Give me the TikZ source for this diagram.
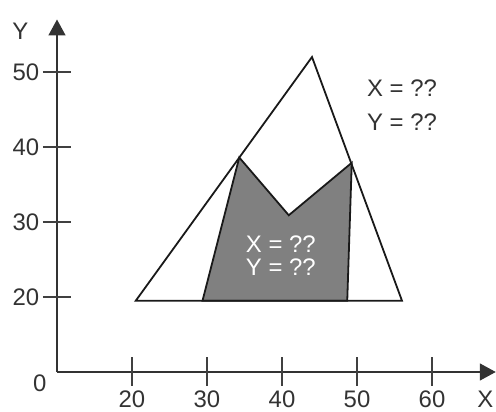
\documentclass[tikz,border=0pt]{standalone}
\usepackage{fontspec}
\setmainfont{Liberation Sans}
\usetikzlibrary{arrows.meta}
\begin{document}
\begin{tikzpicture}[x=7.5bp,y=7.5bp,
	lbl/.style={font=\fontsize{24}{27}\selectfont, text=black!80},
	axisline/.style={line width=1.6pt, black!80, -{Triangle[length=16pt,width=17pt]}},
	tickmark/.style={line width=1.3pt, black!75},
	outline/.style={line width=1.8pt, black!90, line join=miter}]
	\useasboundingbox (2.4,4.667) rectangle (68.533,59.6);
	% axes
	\coordinate (o) at (10,10);
	\coordinate (xend) at (68.5,10);
	\coordinate (yend) at (10,57);
	\draw[axisline] (o)--(xend);
	\draw[axisline] (o)--(yend);
	\node[lbl] (xlab) at (67.1,6.3) {X};
	\node[lbl] (ylab) at (5.1,55.4) {Y};
	\node[lbl] (zero) at (7.7,8.5) {0};
	\foreach \v in {20,30,...,60} {
		\draw[tickmark] (\v,8.2)--(\v,12);
		\node[lbl] (xt\v) at (\v,6.3) {\v};
	}
	\foreach \v in {20,30,...,50} {
		\draw[tickmark] (8.13,\v)--(11.87,\v);
		\node[lbl,anchor=east] (yt\v) at (8.1,\v) {\v};
	}
	% triangle and the grey part inside it
	\coordinate (tl) at (20.5,19.5);
	\coordinate (tt) at (44,52);
	\coordinate (tr) at (56,19.5);
	\coordinate (g1) at (29.4,19.5);
	\coordinate (g2) at (34.3,38.6);
	\coordinate (g3) at (40.9,30.9);
	\coordinate (g4) at (49.3,37.9);
	\coordinate (g5) at (48.7,19.5);
	\draw[outline, fill=black!50] (g1)--(g2)--(g3)--(g4)--(g5)--cycle;
	\draw[outline] (tl)--(tt)--(tr)--cycle;
	\node[lbl, align=center, font=\fontsize{24}{34}\selectfont] (outer) at (56,45.6) {X = ??\\Y = ??};
	\node[lbl, align=center, text=white, font=\fontsize{24}{23}\selectfont] (inner) at (39.85,25.5) {X = ??\\Y = ??};
\end{tikzpicture}
\end{document}
